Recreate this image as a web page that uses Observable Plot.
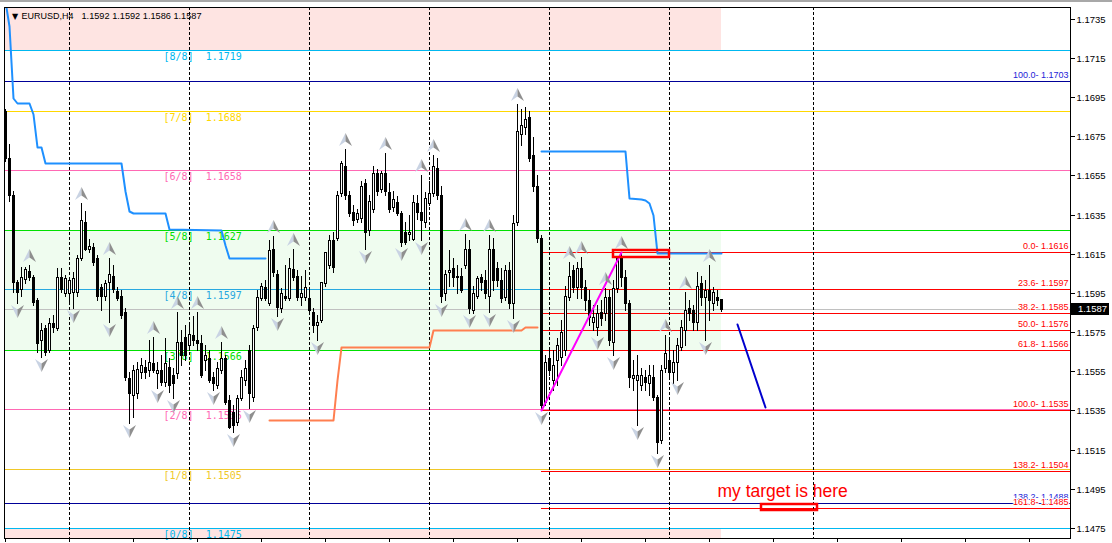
<!DOCTYPE html>
<html><head><meta charset="utf-8">
<script src="https://cdn.jsdelivr.net/npm/d3@7"></script>
<script src="https://cdn.jsdelivr.net/npm/@observablehq/plot@0.6"></script>
<style>html,body{margin:0;padding:0;background:#fff;overflow:hidden}</style>
</head><body><div id="chart"></div>
<script>
// ---- Data (EURUSD, H4) ----
const symbolName = "EURUSD,H4";
const open = [
1.16881,1.16641,1.16448,1.16004,1.15968,1.16019,1.16060,1.16029,1.15912,1.15708,
1.15769,1.15657,1.15795,1.15769,1.16029,1.15948,1.15948,1.15953,1.15953,1.16126,
1.16310,1.16177,1.16183,1.16126,1.15978,1.15937,1.16004,1.16039,1.15958,1.15937,
1.15851,1.15514,1.15428,1.15438,1.15545,1.15570,1.15555,1.15591,1.15540,1.15555,
1.15494,1.15570,1.15530,1.15540,1.15698,1.15723,1.15683,1.15734,1.15708,1.15693,
1.15606,1.15616,1.15519,1.15479,1.15555,1.15616,1.15402,1.15341,1.15290,1.15412,
1.15504,1.15657,1.15417,1.15774,1.15922,1.15978,1.15897,1.16172,1.16049,1.15871,
1.15937,1.15922,1.16070,1.16039,1.15927,1.15927,1.15922,1.15851,1.15785,1.15810,
1.15999,1.16091,1.16218,1.16233,1.16458,1.16600,1.16448,1.16361,1.16330,1.16335,
1.16509,1.16269,1.16381,1.16560,1.16483,1.16565,1.16463,1.16391,1.16412,1.16356,
1.16259,1.16249,1.16228,1.16407,1.16361,1.16310,1.16407,1.16458,1.16590,1.16448,
1.15948,1.16055,1.16075,1.16029,1.16039,1.16091,1.16177,1.15861,1.15937,1.16029,
1.16014,1.15937,1.16177,1.16075,1.16014,1.15927,1.16065,1.15897,1.16310,1.16764,
1.16799,1.16850,1.16652,1.16498,1.16233,1.15392,1.15616,1.15504,1.15606,1.15621,
1.15657,1.15927,1.16065,1.15978,1.16075,1.15978,1.15912,1.15800,1.15774,1.15851,
1.15846,1.15927,1.15698,1.15973,1.16126,1.16029,1.15897,1.15514,1.15504,1.15479,
1.15519,1.15489,1.15519,1.15417,1.15198,1.15565,1.15606,1.15545,1.15596,1.15672,
1.15759,1.15871,1.15861,1.15800,1.15999,1.15927,1.15963,1.15897,1.15927,1.1592];
const high = [
1.16891,1.16708,1.16473,1.16014,1.16081,1.16081,1.16091,1.16044,1.15922,1.15795,
1.15785,1.15820,1.15836,1.16075,1.16075,1.16044,1.16034,1.16055,1.16142,1.16407,
1.16371,1.16228,1.16203,1.16142,1.15994,1.16014,1.16131,1.16091,1.15978,1.15963,
1.15871,1.15545,1.15580,1.15596,1.15616,1.15606,1.15708,1.15723,1.15596,1.15632,
1.15718,1.15616,1.15565,1.15851,1.15759,1.15785,1.15785,1.15831,1.15851,1.15734,
1.15683,1.15657,1.15545,1.15596,1.15698,1.15632,1.15428,1.15377,1.15428,1.15555,
1.15606,1.15683,1.15785,1.15963,1.15999,1.16014,1.16218,1.16239,1.16065,1.15973,
1.16091,1.16126,1.16177,1.16065,1.16039,1.16065,1.15963,1.15871,1.15836,1.15861,
1.16065,1.16244,1.16259,1.16473,1.16626,1.16687,1.16473,1.16397,1.16381,1.16524,
1.16534,1.16448,1.16600,1.16585,1.16575,1.16667,1.16509,1.16473,1.16443,1.16371,
1.16310,1.16346,1.16448,1.16448,1.16550,1.16463,1.16524,1.16652,1.16641,1.16498,
1.16065,1.16167,1.16126,1.16091,1.16075,1.16249,1.16218,1.15988,1.16039,1.16049,
1.16065,1.16244,1.16233,1.16106,1.16075,1.16091,1.16106,1.16346,1.16917,1.16891,
1.16901,1.16881,1.16748,1.16550,1.16244,1.15632,1.15657,1.15657,1.15718,1.15810,
1.15988,1.16106,1.16091,1.16106,1.16136,1.16014,1.15963,1.15887,1.15887,1.15912,
1.15973,1.15963,1.16014,1.16136,1.1616,1.16065,1.15912,1.15606,1.15632,1.15565,
1.15555,1.15580,1.15580,1.15428,1.15580,1.15734,1.15708,1.15657,1.15718,1.15810,
1.15953,1.15912,1.15887,1.16055,1.16039,1.16014,1.16091,1.15978,1.15963,1.1592];
const low = [
1.16626,1.16422,1.15953,1.15897,1.15937,1.15999,1.16014,1.15887,1.15647,1.15621,
1.15632,1.15647,1.15749,1.15759,1.15953,1.15932,1.15892,1.15871,1.15937,1.16116,
1.16167,1.16157,1.16091,1.15912,1.15861,1.15912,1.15800,1.15953,1.15912,1.15820,
1.15504,1.15285,1.15315,1.15412,1.15514,1.15514,1.15524,1.15545,1.15463,1.15479,
1.15473,1.15443,1.15412,1.15514,1.15580,1.15606,1.15657,1.15683,1.15657,1.15519,
1.15555,1.15494,1.15453,1.15463,1.15540,1.15382,1.15259,1.15239,1.15275,1.15402,
1.15479,1.15361,1.15397,1.15759,1.15912,1.15912,1.15887,1.16039,1.15831,1.15851,
1.15912,1.15912,1.16014,1.15912,1.15887,1.15912,1.15851,1.15749,1.15708,1.15800,
1.15988,1.16075,1.16055,1.16218,1.16443,1.16432,1.16341,1.16295,1.16310,1.16310,
1.16177,1.16244,1.16361,1.16448,1.16463,1.16448,1.16361,1.16371,1.16346,1.16188,
1.16198,1.16218,1.16218,1.16330,1.16218,1.16289,1.16397,1.16443,1.16432,1.15902,
1.15912,1.15988,1.15988,1.15948,1.15953,1.16075,1.15846,1.15846,1.15922,1.15963,
1.15922,1.15851,1.15963,1.15988,1.15902,1.15912,1.15871,1.15820,1.16295,1.16703,
1.16764,1.16626,1.16473,1.16208,1.1535,1.15377,1.15530,1.15453,1.15479,1.15580,
1.15632,1.15912,1.15953,1.15922,1.15922,1.15861,1.15785,1.15759,1.15734,1.15785,
1.15810,1.15683,1.15632,1.15953,1.15988,1.15861,1.15468,1.15453,1.15275,1.15453,
1.15453,1.15428,1.15402,1.15132,1.15183,1.15545,1.15514,1.15479,1.15504,1.15657,
1.15683,1.15810,1.15759,1.15759,1.15887,1.15708,1.15810,1.15861,1.15887,1.1586];
const close = [
1.16641,1.16448,1.16004,1.15953,1.16029,1.16070,1.16034,1.15902,1.15693,1.15759,
1.15647,1.15795,1.15774,1.16029,1.15968,1.16024,1.16014,1.16024,1.16126,1.16320,
1.16177,1.16188,1.16106,1.15932,1.15937,1.15999,1.16049,1.15968,1.15922,1.15836,
1.15519,1.15438,1.15555,1.15560,1.15580,1.15545,1.15596,1.15555,1.15555,1.15494,
1.15591,1.15479,1.15489,1.15698,1.15632,1.15632,1.15739,1.15708,1.15693,1.15530,
1.15632,1.15504,1.15489,1.15565,1.15616,1.15392,1.15264,1.15275,1.15412,1.15519,
1.15565,1.15438,1.15769,1.15927,1.15988,1.15922,1.16167,1.16055,1.15877,1.15948,
1.15922,1.16075,1.16029,1.15927,1.15948,1.15978,1.15861,1.15785,1.15800,1.16004,
1.16157,1.16218,1.16081,1.16448,1.16611,1.16448,1.16356,1.16320,1.16356,1.16498,
1.16259,1.16422,1.16560,1.16473,1.16560,1.16473,1.16381,1.16432,1.16356,1.16208,
1.16208,1.16259,1.16412,1.16361,1.16320,1.16437,1.16458,1.16600,1.16448,1.15937,
1.16049,1.16065,1.16029,1.16039,1.15963,1.16177,1.15871,1.15948,1.16024,1.16004,
1.15948,1.16177,1.16014,1.16014,1.15922,1.16065,1.15897,1.16305,1.16779,1.16810,
1.16840,1.16641,1.16498,1.16233,1.15377,1.15596,1.15555,1.15580,1.15683,1.15749,
1.15937,1.16039,1.15978,1.16075,1.15978,1.15912,1.15825,1.15825,1.15846,1.15820,
1.15927,1.15708,1.15973,1.16126,1.16029,1.15897,1.15519,1.15530,1.15530,1.15530,
1.15494,1.15530,1.15417,1.15188,1.15555,1.15642,1.15545,1.15596,1.15683,1.15774,
1.15861,1.15846,1.15800,1.15988,1.15927,1.15963,1.15912,1.15953,1.15912,1.1587];

// Bill Williams fractals (bar indices)
const upFractals = [6,19,26,37,43,48,54,67,72,85,95,104,107,115,121,128,141,144,150,154,165,170,176];
const downFractals = [3,9,17,26,31,38,42,52,57,61,68,78,90,99,104,109,116,121,127,134,148,152,158,163,168,175];

// Murrey Math levels
const murreyNames = ["[0/8]","[1/8]","[2/8]","[3/8]","[4/8]","[5/8]","[6/8]","[7/8]","[8/8]"];
const murreyPrices = [1.1475,1.1505,1.1536,1.1566,1.1597,1.1627,1.1658,1.1688,1.1719];

// Fibonacci retracement (red) and second fib (navy)
const fibLevels = [0.0,23.6,38.2,50.0,61.8,100.0,138.2,161.8];
const fibPrices = [1.1616,1.1597,1.1585,1.1576,1.1566,1.1535,1.1504,1.1485];
const fibStartBar = 134;
const navyLevels = [100.0,138.2];
const navyPrices = [1.1703,1.1488];

// Indicator step lines [bar, price]
const blueLineA = [[0,1.17442],[1,1.17315],[2,1.16947],[3,1.16922],[6,1.16922],[7,1.16866],[8,1.16697],[9,1.16697],[10,1.16616],[29,1.16616],[30,1.16473],[31,1.16371],[32,1.16356],[40,1.16356],[41,1.16279],[54,1.16274],[55,1.16193],[56,1.16131],[65,1.16131]];
const blueLineB = [[134,1.16677],[155,1.16677],[156,1.16437],[159,1.16432],[160,1.16427],[161,1.16407],[162,1.16346],[163,1.16152],[179,1.16152]];
const orangeLine = [[66,1.15300],[82,1.15300],[83,1.15504],[84,1.15672],[106,1.15672],[107,1.15759],[129,1.15759],[130,1.15774],[133,1.15774]];

// Drawn objects
const fibTrend = [[134,1.1535],[154,1.1616]];
const projection = [[183,1.15790],[190,1.15366]];
const boxes = [{b1:152,b2:166,p1:1.16167,p2:1.16136},{b1:189,b2:203,p1:1.14872,p2:1.14841}];
const notes = [{bar:178,price:1.14938,text:"my target is here"}];

// Axes
const yTicks = [1.1735,1.1715,1.1695,1.1675,1.1655,1.1635,1.1615,1.1595,1.1575,1.1555,1.1535,1.1515,1.1495,1.1475];
const xTicks = [0,16,32,48,64,80,96,112,128,144,160,176,192,208,224,240,256];
const weekSeparators = [16,46,76,106,136,166,202];

// ---- Build ----
const bars = open.map((o,i)=>({i,o,h:high[i],l:low[i],c:close[i],top:Math.max(o,close[i]),bot:Math.min(o,close[i])}));
const bullInner = bars.filter(d=>d.c>d.o && d.c-d.o>0.00008);
const last = bars[bars.length-1];
const xMax = 266.25;
const step = (murreyPrices[8]-murreyPrices[0])/8;
const murrey = murreyNames.map((n,i)=>({n,p:murreyPrices[i],i}));
const murreyColors = ["#00b8f0","#f0c828","#ff69b4","#00e000","#28a8e0","#00e000","#ff69b4","#ffd700","#00b8f0"];
const fib = fibLevels.map((lv,i)=>({lv,p:fibPrices[i]}));
const navy = navyLevels.map((lv,i)=>({lv,p:navyPrices[i]}));
const NB = "\u00a0";
const headerValues = [last.o,last.h,last.l,last.c].map(v=>v.toFixed(4)).join(" ");

const arrowSym = (u, side) => ({draw(ctx){ctx.moveTo(0,-6.5*u);ctx.lineTo(side*6.5,6.5*u);ctx.lineTo(0,2*u);ctx.closePath();}});

const chart = Plot.plot({
  width: 1112, height: 543,
  marginLeft: 4, marginRight: 42, marginTop: 7, marginBottom: 5,
  x: {domain: [-0.25, xMax], axis: null},
  y: {domain: [1.14699, 1.17410], axis: null, round: true},
  style: {fontFamily: "'Liberation Sans', Arial, sans-serif", fontSize: "9px", background: "white", overflow: "visible"},
  marks: [
    // zones
    Plot.rect([[murreyPrices[8], murreyPrices[8]+step],[murreyPrices[0]-step, murreyPrices[0]]], {x1: -1, x2: last.i, y1: d=>d[0], y2: d=>d[1], fill: "#fee4e2", clip: true, inset: 0}),
    Plot.rect([[murreyPrices[3], murreyPrices[5]]], {x1: -1, x2: last.i, y1: d=>d[0], y2: d=>d[1], fill: "#effcef", clip: true, inset: 0}),
    // murrey lines and labels
    Plot.ruleY(murrey, {y: "p", stroke: d=>murreyColors[d.i], strokeWidth: 1}),
    Plot.text(murrey, {y: "p", frameAnchor: "left", dx: 159, dy: 6.5, textAnchor: "start", lineAnchor: "middle",
      text: d=>d.n+NB+NB+d.p.toFixed(4), fill: d=>murreyColors[d.i], fontFamily: "'DejaVu Sans Mono', monospace", fontSize: 10}),
    // navy fib lines
    Plot.ruleY(navy, {y: "p", stroke: "#000098"}),
    // bid line
    Plot.ruleY([last.c], {stroke: "#c0c0c0"}),
    // red fib lines
    Plot.ruleY(fib, {y: "p", x1: fibStartBar, x2: xMax, stroke: "#ff0000"}),
    // week separators
    Plot.ruleX(weekSeparators, {x: d=>d, stroke: "black", strokeDasharray: "3,2"}),
    // indicator lines
    Plot.line(blueLineA, {x: d=>d[0], y: d=>d[1], stroke: "#1e90ff", strokeWidth: 2, clip: true}),
    Plot.line(blueLineB, {x: d=>d[0], y: d=>d[1], stroke: "#1e90ff", strokeWidth: 2, clip: true}),
    Plot.line(orangeLine, {x: d=>d[0], y: d=>d[1], stroke: "#ff7f50", strokeWidth: 2, clip: true}),
    // candles: wick, body outline (3px), white interior for bullish bars
    Plot.ruleX(bars, {x: "i", y1: "h", y2: "l", stroke: "black", strokeWidth: 1, insetBottom: -1}),
    Plot.ruleX(bars, {x: "i", y1: "top", y2: "bot", stroke: "black", strokeWidth: 3, insetBottom: -1}),
    Plot.ruleX(bullInner, {x: "i", y1: "top", y2: "bot", stroke: "white", strokeWidth: 1, insetTop: 1}),
    // drawn trend lines
    Plot.line(fibTrend, {x: d=>d[0], y: d=>d[1], stroke: "#ff00ff", strokeWidth: 2}),
    Plot.line(projection, {x: d=>d[0], y: d=>d[1], stroke: "#0000cd", strokeWidth: 2}),
    // fractal arrows
    Plot.dot(upFractals, {x: d=>d, y: d=>high[d], dy: -10, symbol: arrowSym(1,-1), r: 6, fill: "#c9d3e3", stroke: "none"}),
    Plot.dot(upFractals, {x: d=>d, y: d=>high[d], dy: -10, symbol: arrowSym(1,1), r: 6, fill: "#8f8f8f", stroke: "none"}),
    Plot.dot(downFractals, {x: d=>d, y: d=>low[d], dy: 8, symbol: arrowSym(-1,-1), r: 6, fill: "#c9d3e3", stroke: "none"}),
    Plot.dot(downFractals, {x: d=>d, y: d=>low[d], dy: 8, symbol: arrowSym(-1,1), r: 6, fill: "#8f8f8f", stroke: "none"}),
    // rectangles
    Plot.rect(boxes, {x1: "b1", x2: "b2", y1: "p1", y2: "p2", fill: "none", stroke: "#ff0000", strokeWidth: 2.5, inset: 0}),
    // fib labels
    Plot.text(navy, {y: "p", frameAnchor: "right", dx: -2, dy: -6, textAnchor: "end", lineAnchor: "middle", text: d=>d.lv.toFixed(1)+"- "+d.p.toFixed(4), fill: "#2424d8", stroke: "white", strokeWidth: 2}),
    Plot.text(fib, {y: "p", frameAnchor: "right", dx: -2, dy: -6, textAnchor: "end", lineAnchor: "middle", text: d=>d.lv.toFixed(1)+"- "+d.p.toFixed(4), fill: "#ff0000", stroke: "white", strokeWidth: 2}),
    // note
    Plot.text(notes, {x: "bar", y: "price", text: "text", textAnchor: "start", lineAnchor: "middle", fill: "#ff0000", fontSize: 17.5}),
    // header
    Plot.text(["\u25BC"], {frameAnchor: "top-left", dx: 7.5, dy: 8.5, lineAnchor: "middle", fontSize: 8, fontFamily: "'DejaVu Sans', sans-serif", fill: "black"}),
    Plot.text([symbolName], {frameAnchor: "top-left", dx: 17, dy: 8.5, textAnchor: "start", lineAnchor: "middle", fill: "black", fontSize: 9.5}),
    Plot.text([headerValues], {frameAnchor: "top-left", dx: 77, dy: 8.5, textAnchor: "start", lineAnchor: "middle", fill: "black", fontSize: 9.5}),
    // axes
    Plot.axisY({anchor: "right", ticks: yTicks, tickFormat: d=>d.toFixed(4), tickSize: 4, tickPadding: 2, label: null, fontSize: 9.5}),
    Plot.axisX({anchor: "bottom", ticks: xTicks, tickSize: 4, tickFormat: () => "", label: null}),
    Plot.frame({stroke: "black"})
  ]
});
document.getElementById("chart").appendChild(chart);

const svg = d3.select(chart);
// keep the header strings at the widths the terminal uses
svg.selectAll("text").filter(function(){ return this.textContent === symbolName; })
  .attr("textLength", 52).attr("lengthAdjust", "spacingAndGlyphs");
svg.selectAll("text").filter(function(){ return this.textContent === headerValues; })
  .attr("textLength", 120).attr("lengthAdjust", "spacingAndGlyphs");

// current price tag on the price axis
const ys = chart.scale("y");
const py = Math.round(ys.apply(last.c));
svg.append("rect").attr("x", 1071).attr("y", py-6).attr("width", 38).attr("height", 12).attr("fill", "black");
svg.append("text").attr("x", 1107).attr("y", py).attr("dy", "0.35em").attr("text-anchor", "end").attr("fill", "white")
  .attr("font-size", "9.5px").attr("font-family", "'Liberation Sans', Arial, sans-serif").text(last.c.toFixed(4));
// window chrome strip at the very top
svg.insert("rect", ":first-child").attr("x", 0).attr("y", 0).attr("width", 1112).attr("height", 2).attr("fill", "#a8a8a8");
</script>
</body></html>
